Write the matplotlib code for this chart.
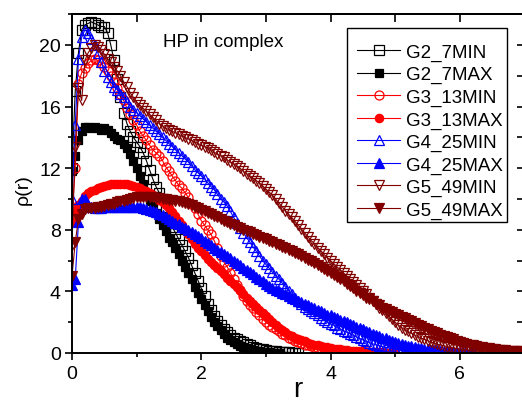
import numpy as np
import matplotlib
matplotlib.use("Agg")
import matplotlib.pyplot as plt
from matplotlib.ticker import MultipleLocator
from matplotlib.patches import Rectangle

plt.rcParams['font.family'] = ['Liberation Sans', 'DejaVu Sans']

R_STEP = 0.05

G2_7MIN = [12.0, 17.0, 19.5, 21.0, 21.3, 21.4, 21.5, 21.4, 21.3, 21.2,
           21.2, 20.8, 20.0, 19.0, 17.8, 16.6, 15.6, 14.9, 14.4, 14.0,
           13.7, 13.4, 13.0, 12.5, 11.9, 11.3, 10.8, 10.4, 10.0, 9.4,
           8.8, 8.2, 7.8, 7.4, 7.0, 6.6, 6.2, 5.7, 5.2, 4.7,
           4.2, 3.7, 3.2, 2.8, 2.4, 2.1, 1.8, 1.55, 1.35, 1.15,
           1.0, 0.9, 0.8, 0.7, 0.6, 0.5, 0.42, 0.35, 0.28, 0.23,
           0.2, 0.16, 0.13, 0.1, 0.08, 0.06, 0.05, 0.04, 0.03, 0.02, 0.02]

G2_7MAX = [11.8, 12.8, 13.8, 14.4, 14.7, 14.7, 14.6, 14.7, 14.6, 14.5,
           14.6, 14.5, 14.3, 14.1, 13.9, 13.8, 13.6, 13.3, 12.9, 12.5,
           12.0, 11.5, 11.0, 10.4, 9.9, 9.5, 9.1, 8.7, 8.3, 7.9,
           7.5, 7.2, 6.8, 6.4, 6.0, 5.6, 5.2, 4.8, 4.3, 3.9,
           3.5, 3.1, 2.7, 2.35, 2.0, 1.75, 1.5, 1.25, 1.0, 0.85,
           0.7, 0.58, 0.45, 0.37, 0.3, 0.23, 0.18, 0.14, 0.1, 0.08,
           0.06, 0.04, 0.03, 0.02, 0.02]

G3_13MIN = [9.0, 12.0, 17.5, 18.2, 18.5, 18.8, 19.0, 19.1, 19.0, 18.8,
            18.6, 18.3, 18.0, 17.6, 17.2, 16.8, 16.4, 15.9, 15.5, 15.1,
            14.8, 14.4, 14.1, 13.8, 13.5, 13.2, 13.0, 12.8, 12.5, 12.1,
            11.8, 11.5, 11.2, 10.9, 10.7, 10.4, 10.1, 9.7, 9.4, 9.0,
            8.6, 8.3, 8.0, 7.7, 7.3, 6.8, 6.3, 5.9, 5.6, 5.2,
            4.8, 4.4, 4.1, 3.7, 3.4, 3.1, 2.9, 2.65, 2.45, 2.2,
            2.0, 1.85, 1.7, 1.55, 1.4, 1.25, 1.15, 1.0, 0.9, 0.8,
            0.7, 0.62, 0.55, 0.5, 0.45, 0.4, 0.35, 0.3, 0.27, 0.23,
            0.2, 0.18, 0.16, 0.14, 0.12, 0.1, 0.09, 0.08, 0.07, 0.06,
            0.05, 0.04, 0.04]

G3_13MAX = [8.5, 9.2, 9.6, 9.9, 10.2, 10.4, 10.5, 10.6, 10.7, 10.8,
            10.85, 10.9, 10.95, 11.0, 11.0, 11.0, 11.0, 10.95, 10.9, 10.85,
            10.8, 10.7, 10.6, 10.5, 10.4, 10.25, 10.1, 9.95, 9.8, 9.6,
            9.4, 9.15, 8.9, 8.6, 8.3, 8.0, 7.7, 7.4, 7.1, 6.85,
            6.6, 6.35, 6.1, 5.9, 5.7, 5.5, 5.3, 5.1, 4.9, 4.7,
            4.5, 4.3, 4.1, 3.85, 3.6, 3.4, 3.2, 3.0, 2.8, 2.6,
            2.4, 2.2, 2.0, 1.8, 1.65, 1.5, 1.35, 1.2, 1.1, 1.0,
            0.9, 0.82, 0.75, 0.68, 0.6, 0.55, 0.5, 0.45, 0.4, 0.36,
            0.32, 0.29, 0.26, 0.23, 0.2, 0.18, 0.16, 0.14, 0.12, 0.11,
            0.1, 0.09, 0.07, 0.06, 0.05, 0.05, 0.04, 0.03, 0.03, 0.02, 0.02]

G4_25MIN = [10.0, 14.8, 19.1, 20.5, 21.0, 20.8, 20.4, 20.0, 19.5, 18.9,
            18.3, 17.9, 17.6, 17.3, 17.1, 16.8, 16.6, 16.3, 16.0, 15.8,
            15.6, 15.4, 15.2, 15.0, 14.8, 14.6, 14.4, 14.2, 14.0, 13.8,
            13.6, 13.4, 13.2, 13.0, 12.8, 12.6, 12.4, 12.15, 11.9, 11.7,
            11.5, 11.3, 11.05, 10.8, 10.6, 10.3, 10.0, 9.8, 9.55, 9.2,
            8.8, 8.45, 8.1, 7.8, 7.5, 7.2, 6.9, 6.6, 6.3, 6.0,
            5.75, 5.5, 5.25, 5.0, 4.8, 4.55, 4.3, 4.05, 3.8, 3.55,
            3.35, 3.15, 3.0, 2.85, 2.7, 2.6, 2.45, 2.3, 2.15, 2.0,
            1.9, 1.8, 1.65, 1.55, 1.45, 1.35, 1.25, 1.15, 1.05, 0.95,
            0.85, 0.75, 0.68, 0.6, 0.53, 0.47, 0.42, 0.37, 0.33, 0.29,
            0.26, 0.23, 0.2, 0.18, 0.16, 0.14, 0.12, 0.1, 0.09, 0.08,
            0.07, 0.06, 0.05, 0.04, 0.04, 0.03, 0.03]

G4_25MAX = [4.4, 4.8, 8.5, 10.0, 10.0, 9.6, 9.5, 9.4, 9.4, 9.4,
            9.5, 9.5, 9.5, 9.5, 9.5, 9.5, 9.5, 9.5, 9.5, 9.5,
            9.5, 9.45, 9.4, 9.35, 9.3, 9.2, 9.15, 9.05, 8.95, 8.85,
            8.7, 8.6, 8.45, 8.35, 8.2, 8.1, 8.0, 7.85, 7.75, 7.6,
            7.45, 7.3, 7.15, 7.0, 6.85, 6.7, 6.55, 6.4, 6.3, 6.15,
            6.0, 5.85, 5.7, 5.55, 5.4, 5.25, 5.1, 4.95, 4.8, 4.65,
            4.5, 4.35, 4.25, 4.1, 4.0, 3.9, 3.8, 3.7, 3.6, 3.5,
            3.4, 3.3, 3.2, 3.1, 3.0, 2.9, 2.8, 2.7, 2.6, 2.5,
            2.45, 2.35, 2.25, 2.15, 2.1, 2.0, 1.9, 1.8, 1.7, 1.6,
            1.55, 1.45, 1.35, 1.25, 1.2, 1.1, 1.0, 0.95, 0.87, 0.8,
            0.73, 0.66, 0.6, 0.54, 0.48, 0.43, 0.38, 0.34, 0.3, 0.27,
            0.24, 0.21, 0.19, 0.17, 0.15, 0.13, 0.11, 0.1, 0.09, 0.08,
            0.07, 0.06, 0.05, 0.04, 0.04]

G5_49MIN = [7.0, 13.4, 17.2, 16.4, 19.0, 19.5, 19.8, 20.0, 19.9, 19.7,
            19.4, 19.1, 18.9, 18.6, 18.3, 18.0, 17.6, 17.3, 16.9, 16.6,
            16.3, 16.1, 15.9, 15.7, 15.5, 15.3, 15.1, 14.9, 14.75, 14.6,
            14.5, 14.4, 14.3, 14.2, 14.1, 14.0, 13.9, 13.8, 13.7, 13.6,
            13.5, 13.4, 13.3, 13.2, 13.05, 12.9, 12.8, 12.7, 12.55, 12.4,
            12.3, 12.15, 12.0, 11.8, 11.65, 11.5, 11.35, 11.2, 11.05, 10.85,
            10.65, 10.45, 10.25, 10.0, 9.75, 9.5, 9.25, 9.0, 8.8, 8.55,
            8.3, 8.05, 7.8, 7.55, 7.3, 7.1, 6.85, 6.65, 6.4, 6.2,
            6.0, 5.8, 5.6, 5.4, 5.2, 5.0, 4.8, 4.6, 4.4, 4.2,
            4.0, 3.8, 3.6, 3.4, 3.2, 2.95, 2.8, 2.6, 2.4, 2.2,
            2.0, 1.8, 1.65, 1.5, 1.4, 1.28, 1.17, 1.07, 0.98, 0.89,
            0.8, 0.72, 0.65, 0.58, 0.52, 0.47, 0.42, 0.37, 0.33, 0.29,
            0.26, 0.23, 0.2, 0.18, 0.16, 0.14, 0.12, 0.11, 0.1, 0.09,
            0.08, 0.07, 0.06, 0.05, 0.05, 0.04, 0.04, 0.03, 0.03, 0.03, 0.02]

G5_49MAX = [5.0, 7.2, 8.7, 9.0, 9.35, 9.4, 9.4, 9.4, 9.45, 9.5,
            9.55, 9.6, 9.65, 9.7, 9.8, 9.85, 9.9, 9.95, 10.0, 10.05,
            10.1, 10.1, 10.1, 10.1, 10.1, 10.1, 10.05, 10.05, 10.0, 10.0,
            9.95, 9.95, 9.9, 9.85, 9.8, 9.75, 9.65, 9.6, 9.5, 9.4,
            9.3, 9.2, 9.1, 9.0, 8.9, 8.8, 8.7, 8.6, 8.5, 8.4,
            8.3, 8.2, 8.1, 8.0, 7.9, 7.85, 7.75, 7.65, 7.55, 7.5,
            7.4, 7.3, 7.2, 7.1, 7.0, 6.9, 6.8, 6.7, 6.6, 6.5,
            6.4, 6.3, 6.15, 6.05, 5.95, 5.85, 5.7, 5.6, 5.45, 5.35,
            5.2, 5.05, 4.95, 4.8, 4.65, 4.5, 4.35, 4.2, 4.05, 3.9,
            3.75, 3.6, 3.5, 3.35, 3.2, 3.1, 2.95, 2.85, 2.75, 2.65,
            2.55, 2.45, 2.35, 2.25, 2.15, 2.05, 1.95, 1.85, 1.75, 1.65,
            1.55, 1.45, 1.37, 1.28, 1.2, 1.12, 1.04, 0.96, 0.88, 0.8,
            0.72, 0.66, 0.6, 0.55, 0.5, 0.45, 0.41, 0.37, 0.33, 0.3,
            0.27, 0.24, 0.21, 0.19, 0.17, 0.15, 0.13, 0.12, 0.11, 0.1, 0.09]

series_names = ["G2_7MIN", "G2_7MAX", "G3_13MIN", "G3_13MAX",
                "G4_25MIN", "G4_25MAX", "G5_49MIN", "G5_49MAX"]
series_values = [G2_7MIN, G2_7MAX, G3_13MIN, G3_13MAX,
                 G4_25MIN, G4_25MAX, G5_49MIN, G5_49MAX]
colors = ["black", "black", "#ff0000", "#ff0000",
          "#0000ff", "#0000ff", "#800000", "#800000"]
markers = ["s", "s", "o", "o", "^", "^", "v", "v"]
filled = [False, True, False, True, False, True, False, True]
msizes = [6.5, 5.6, 6.5, 6.0, 7.5, 6.8, 7.5, 6.8]

W, H = 522, 410
fig = plt.figure(figsize=(W / 100, H / 100), dpi=100)
x0, x7 = 72, 524.5
ytop, ybot = 15.2, 354
ax = fig.add_axes([x0 / W, 1 - ybot / H, (x7 - x0) / W, (ybot - ytop) / H])


def ax_x(px):
    return (px - x0) / (x7 - x0)


def ax_y(py):
    return (ybot - py) / (ybot - ytop)


for name, vals, c, m, f, ms in zip(series_names, series_values, colors, markers, filled, msizes):
    r = np.arange(len(vals)) * R_STEP
    ax.plot(r, vals, color=c, lw=0.8, marker=m, ms=ms,
            mfc=(c if f else "none"), mec=c, mew=0.9, label=name)

ax.set_xlim(0, 7)
ax.set_ylim(0, 22)
ax.xaxis.set_major_locator(MultipleLocator(2))
ax.xaxis.set_minor_locator(MultipleLocator(1))
ax.yaxis.set_major_locator(MultipleLocator(4))
ax.yaxis.set_minor_locator(MultipleLocator(2))
ax.tick_params(which="major", direction="out", length=5, width=1.2,
               labelsize=14, pad=3)
ax.tick_params(which="minor", direction="out", length=3, width=1.2)
ax.tick_params(axis="x", which="major", pad=4)
for s in ax.spines.values():
    s.set_linewidth(1.4)

top = ax.secondary_xaxis("top")
top.xaxis.set_major_locator(MultipleLocator(1))
top.tick_params(direction="in", length=5.5, width=1.2, labeltop=False)
top.spines["top"].set_linewidth(1.4)
right = ax.secondary_yaxis("right")
right.yaxis.set_major_locator(MultipleLocator(2))
right.tick_params(direction="in", length=5.5, width=1.2, labelright=False)

ax.set_xlabel("r", fontsize=20)
ax.xaxis.set_label_coords(ax_x(298), ax_y(377))
ax.set_ylabel("ρ(r)", fontsize=14)
ax.yaxis.set_label_coords(ax_x(32), ax_y(190))

ax.text(1.41, 19.95, "HP in complex", fontsize=13.5, ha="left", va="baseline")

# legend box drawn as a plain rectangle (square corners, thin black border)
box = Rectangle((ax_x(347), ax_y(223)), ax_x(507) - ax_x(347), ax_y(29) - ax_y(223),
                transform=ax.transAxes, facecolor="white", edgecolor="black",
                lw=1.0, zorder=4, clip_on=False)
ax.add_patch(box)

leg = ax.legend(loc="upper left", bbox_to_anchor=(ax_x(357), ax_y(44.5)),
                fontsize=13.5, frameon=False,
                handlelength=2.3, handletextpad=0.3, labelspacing=0.28,
                borderpad=0.0, borderaxespad=0.0, markerscale=1.0)
leg.set_zorder(5)

fig.savefig("out.png", dpi=100)
